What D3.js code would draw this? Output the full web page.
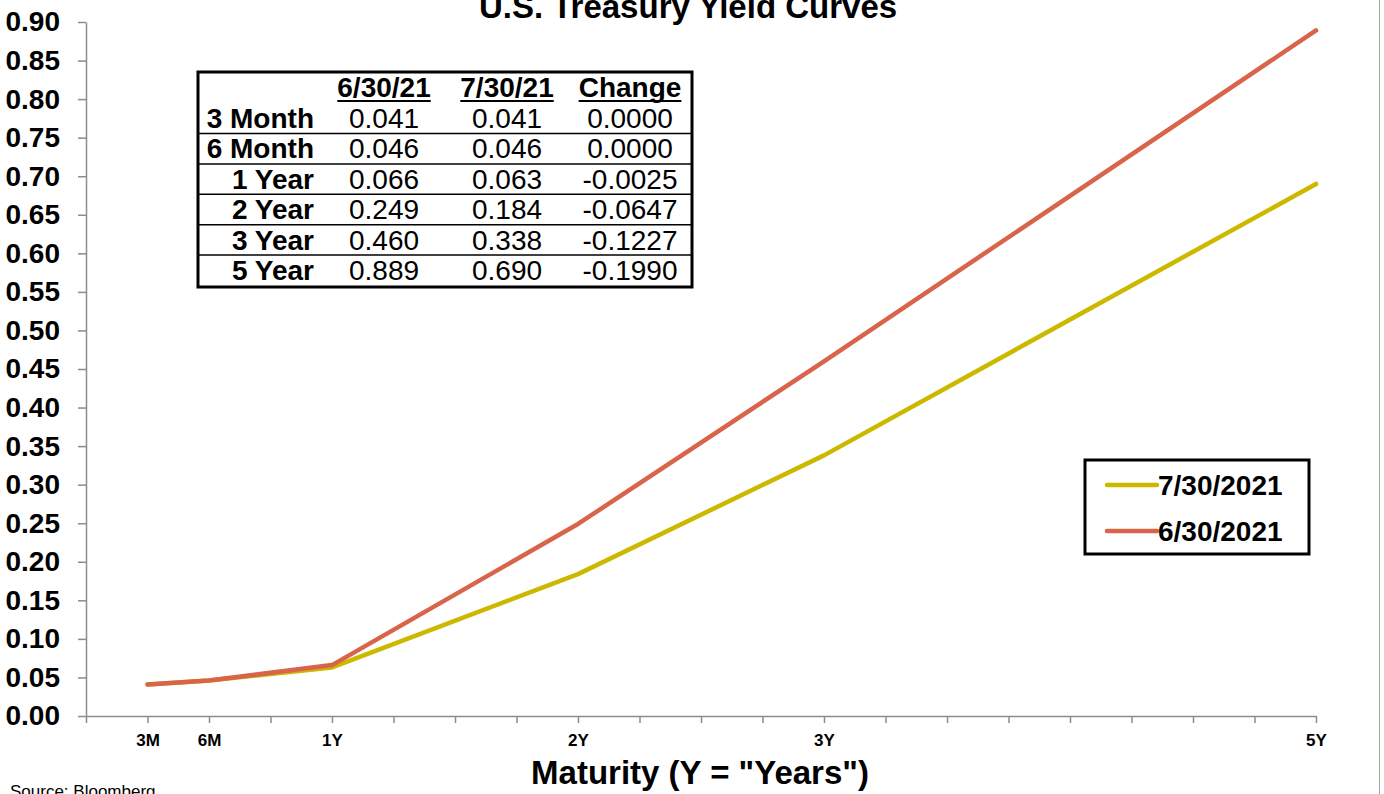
<!DOCTYPE html>
<html>
<head>
<meta charset="utf-8">
<script src="https://cdn.jsdelivr.net/npm/d3@7"></script>
<style>
  body { margin: 0; background: #fff; }
  svg { display: block; font-family: "Liberation Sans", Arial, sans-serif; }
</style>
</head>
<body>
<div id="chart"></div>
<script>
// Treasury yield curves, 6/30/21 vs 7/30/21

const maturityLabels = ["3 Month", "6 Month", "1 Year", "2 Year", "3 Year", "5 Year"];
const maturityTicks = ["3M", "6M", "1Y", "2Y", "3Y", "5Y"];
const maturityMonths = [3, 6, 12, 24, 36, 60];
const yieldJun = [0.041, 0.046, 0.066, 0.249, 0.460, 0.889];
const yieldJul = [0.041, 0.046, 0.063, 0.184, 0.338, 0.690];
const yieldChange = [0.0000, 0.0000, -0.0025, -0.0647, -0.1227, -0.1990];
const tableHeaders = ["6/30/21", "7/30/21", "Change"];

const series = [
  { name: "7/30/2021", values: yieldJul, color: "#CDB800" },
  { name: "6/30/2021", values: yieldJun, color: "#D8644A" }
];

const width = 1384, height = 794;
const axisColor = "#8c8c8c";

const svg = d3.select("#chart").append("svg")
  .attr("width", width)
  .attr("height", height);

const x = d3.scaleLinear().domain([0, 60]).range([86, 1316]);
const y = d3.scaleLinear().domain([0, 0.9]).range([716, 22]);

// chart border on the right
svg.append("line")
  .attr("x1", 1379.5).attr("x2", 1379.5)
  .attr("y1", 0).attr("y2", height)
  .attr("stroke", "#a6a6a6").attr("stroke-width", 1);

// title (sits partly above the page, as in the original)
svg.append("text")
  .attr("x", 688)
  .attr("y", 18)
  .attr("text-anchor", "middle")
  .style("font-size", "33px")
  .style("font-weight", "bold")
  .text("U.S. Treasury Yield Curves");

// y axis
const yAxis = svg.append("g")
  .attr("transform", "translate(86,0)")
  .call(d3.axisLeft(y).tickValues(d3.range(0, 0.9001, 0.05)).tickFormat(d3.format(".2f")).tickSize(8).tickPadding(18).tickSizeOuter(0));
yAxis.select(".domain").attr("stroke", axisColor).attr("stroke-width", 1.5);
yAxis.selectAll(".tick line").attr("stroke", axisColor).attr("stroke-width", 1.5);
yAxis.selectAll(".tick text")
  .attr("fill", "#000")
  .style("font-size", "28px")
  .style("font-weight", "bold")
  .style("font-family", "'Liberation Sans', Arial, sans-serif");

// x axis: a tick every 3 months, labels only at the maturities
const xAxis = svg.append("g")
  .attr("transform", "translate(0,716)")
  .call(d3.axisBottom(x).tickValues(d3.range(0, 61, 3)).tickSize(7).tickSizeOuter(0)
    .tickFormat(d => {
      const i = maturityMonths.indexOf(d);
      return i >= 0 ? maturityTicks[i] : "";
    }));
xAxis.select(".domain").attr("stroke", axisColor).attr("stroke-width", 1.5);
xAxis.selectAll(".tick line").attr("stroke", axisColor).attr("stroke-width", 1.5);
xAxis.selectAll(".tick text")
  .attr("fill", "#000")
  .attr("y", 18)
  .style("font-size", "17px")
  .style("font-weight", "bold")
  .style("font-family", "'Liberation Sans', Arial, sans-serif");

// x axis title
svg.append("text")
  .attr("x", 700)
  .attr("y", 784)
  .attr("text-anchor", "middle")
  .style("font-size", "33px")
  .style("font-weight", "bold")
  .text('Maturity (Y = "Years")');

svg.append("text")
  .attr("x", 10)
  .attr("y", 797)
  .style("font-size", "17px")
  .style("fill", "#000")
  .text("Source: Bloomberg");

// lines
const line = d3.line()
  .x((d, i) => x(maturityMonths[i]))
  .y(d => y(d));

svg.selectAll(".curve")
  .data(series)
  .enter()
  .append("path")
  .attr("class", "curve")
  .attr("d", d => line(d.values))
  .attr("fill", "none")
  .attr("stroke", d => d.color)
  .attr("stroke-width", 4.5)
  .attr("stroke-linejoin", "round")
  .attr("stroke-linecap", "round");

// data table
const table = svg.append("g").attr("class", "table");
const tbl = { left: 198, right: 692, top: 72, bottom: 287 };
const rowY = d3.scaleLinear().domain([0, 5]).range([118, 270]);
const colX = [384, 507, 630];

table.append("rect")
  .attr("x", tbl.left).attr("y", tbl.top)
  .attr("width", tbl.right - tbl.left).attr("height", tbl.bottom - tbl.top)
  .attr("fill", "#fff")
  .attr("stroke", "#000").attr("stroke-width", 3);

tableHeaders.forEach((h, i) => {
  const t = table.append("text")
    .attr("x", colX[i]).attr("y", 97)
    .attr("text-anchor", "middle")
    .style("font-size", "28px")
    .style("font-weight", "bold")
    .text(h);
  const w = t.node().getComputedTextLength();
  table.append("line")
    .attr("x1", colX[i] - w / 2).attr("x2", colX[i] + w / 2)
    .attr("y1", 101).attr("y2", 101)
    .attr("stroke", "#000").attr("stroke-width", 2);
});

maturityLabels.forEach((m, i) => {
  const cy = rowY(i);
  if (i < maturityLabels.length - 1) {
    table.append("line")
      .attr("x1", tbl.left).attr("x2", tbl.right)
      .attr("y1", cy + 15.5).attr("y2", cy + 15.5)
      .attr("stroke", "#000").attr("stroke-width", 1.5);
  }
  table.append("text")
    .attr("x", 314).attr("y", cy + 10)
    .attr("text-anchor", "end")
    .style("font-size", "28px")
    .style("font-weight", "bold")
    .text(m);
  [yieldJun[i].toFixed(3), yieldJul[i].toFixed(3), yieldChange[i].toFixed(4)].forEach((v, j) => {
    table.append("text")
      .attr("x", colX[j]).attr("y", cy + 10)
      .attr("text-anchor", "middle")
      .style("font-size", "28px")
      .text(v);
  });
});

// legend
const legend = svg.append("g").attr("transform", "translate(1085,460)");
legend.append("rect")
  .attr("width", 224).attr("height", 94)
  .attr("fill", "#fff")
  .attr("stroke", "#000").attr("stroke-width", 3);

series.forEach((s, i) => {
  const row = legend.append("g").attr("transform", `translate(0,${25 + i * 46})`);
  row.append("line")
    .attr("x1", 22).attr("x2", 72)
    .attr("stroke", s.color).attr("stroke-width", 4.5)
    .attr("stroke-linecap", "round");
  row.append("text")
    .attr("x", 73).attr("y", 10)
    .style("font-size", "28px")
    .style("font-weight", "bold")
    .text(s.name);
});
</script>
</body>
</html>
